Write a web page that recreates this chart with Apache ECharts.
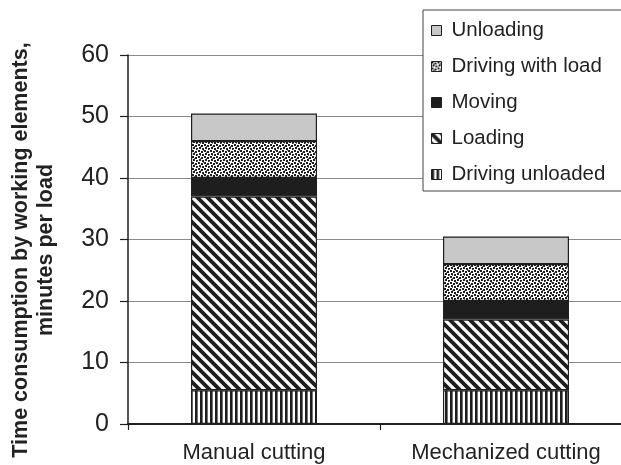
<!DOCTYPE html>
<html>
<head>
<meta charset="utf-8">
<script src="https://cdn.jsdelivr.net/npm/echarts/dist/echarts.min.js"></script>
<style>
html,body{margin:0;padding:0;background:#fff;}
#c{width:621px;height:465px;}
</style>
</head>
<body>
<div id="c"></div>
<script>
const categories = ['Manual cutting', 'Mechanized cutting'];
const drivingUnloaded = [5.5, 5.5];
const loading = [31.5, 11.5];
const moving = [3, 3];
const drivingWithLoad = [6, 6];
const unloading = [4.5, 4.5];
const legendOrder = ['Unloading', 'Driving with load', 'Moving', 'Loading', 'Driving unloaded'];

const INK = '#1e1e1e';
const FONT = '"Liberation Sans", Arial, sans-serif';

function tile(w, h, draw) {
  const c = document.createElement('canvas');
  c.width = w; c.height = h;
  const g = c.getContext('2d');
  g.fillStyle = '#fff';
  g.fillRect(0, 0, w, h);
  draw(g, w, h);
  return { image: c, repeat: 'repeat' };
}

const vStripes = tile(5, 5, (g) => {
  g.fillStyle = INK;
  g.fillRect(0, 0, 2.6, 5);
});

const diagStripes = tile(10, 10, (g, w) => {
  g.strokeStyle = INK;
  g.lineWidth = 3.8;
  g.lineCap = 'square';
  [-w, 0, w].forEach((c) => {
    g.beginPath();
    g.moveTo(-2, c - 2);
    g.lineTo(w + 2, w + c + 2);
    g.stroke();
  });
});

const dots = tile(12, 12, (g) => {
  g.fillStyle = INK;
  const pts = [[0,0],[3,1],[6,0],[9,1],[1,3],[4,4],[7,3],[10,4],[0,6],[3,7],[6,6],[9,7],[1,9],[4,10],[7,9],[10,10]];
  pts.forEach(([x, y]) => g.fillRect(x, y, 2, 2));
  g.fillStyle = '#777';
  [[2,2],[8,2],[5,5],[11,6],[2,8],[8,11],[5,11]].forEach(([x, y]) => g.fillRect(x, y, 1, 1));
});

function barSeries(name, data, color) {
  return {
    name: name,
    type: 'bar',
    stack: 'total',
    barWidth: 126,
    data: data,
    itemStyle: { color: color, borderColor: INK, borderWidth: 1.2 },
    emphasis: { disabled: true }
  };
}

const chart = echarts.init(document.getElementById('c'), null, { renderer: 'canvas' });
chart.setOption({
  animation: false,
  backgroundColor: '#fff',
  grid: { left: 128, width: 504, top: 55, bottom: 41, containLabel: false, outerBoundsMode: 'none' },
  legend: {
    data: legendOrder,
    orient: 'vertical',
    left: 423,
    top: 10,
    padding: [10, 19, 6, 8],
    itemGap: 15,
    itemWidth: 10,
    itemHeight: 10,
    backgroundColor: '#fff',
    borderColor: '#444',
    borderWidth: 1,
    borderRadius: 0,
    icon: 'rect',
    itemStyle: { borderColor: INK, borderWidth: 1 },
    textStyle: { fontFamily: FONT, fontSize: 20.5, color: '#222', lineHeight: 20, padding: [0, 0, 0, 5] },
    selectedMode: false
  },
  xAxis: {
    type: 'category',
    data: categories,
    axisLine: { lineStyle: { color: INK, width: 2 } },
    axisTick: { show: true, length: 6, lineStyle: { color: INK, width: 1.2 } },
    axisLabel: { fontFamily: FONT, fontSize: 22, color: '#222', margin: 18 },
    splitLine: { show: false }
  },
  yAxis: {
    type: 'value',
    min: 0,
    max: 60,
    interval: 10,
    axisLine: { show: true, lineStyle: { color: INK, width: 1.5 } },
    axisTick: { show: true, length: 8, lineStyle: { color: INK, width: 1.2 } },
    axisLabel: { fontFamily: FONT, fontSize: 25, color: '#222', margin: 19 },
    splitLine: { show: true, lineStyle: { color: '#8a8a8a', width: 1 } }
  },
  graphic: [{
    type: 'text',
    x: 34,
    y: 250,
    rotation: Math.PI / 2,
    style: {
      text: 'Time consumption by working elements,\nminutes per load',
      font: 'bold 21.5px ' + FONT,
      fill: '#222',
      textAlign: 'center',
      textVerticalAlign: 'middle',
      lineHeight: 25
    }
  }],
  series: [
    barSeries('Driving unloaded', drivingUnloaded, vStripes),
    barSeries('Loading', loading, diagStripes),
    barSeries('Moving', moving, INK),
    barSeries('Driving with load', drivingWithLoad, dots),
    barSeries('Unloading', unloading, '#c8c8c8')
  ]
});
</script>
</body>
</html>
